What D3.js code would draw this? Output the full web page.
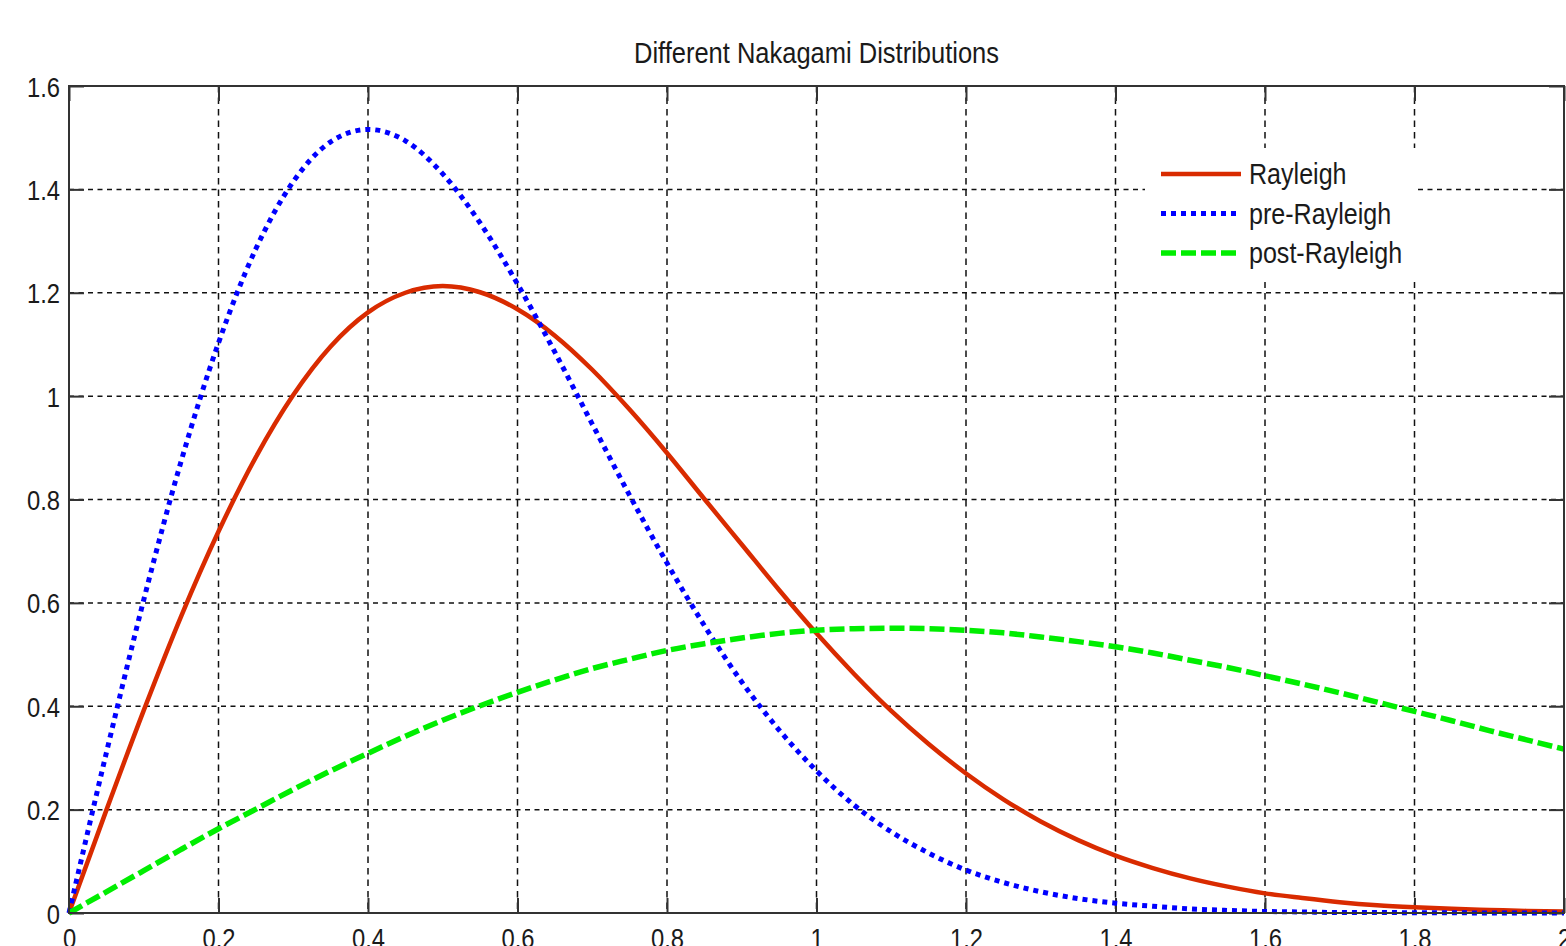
<!DOCTYPE html>
<html>
<head>
<meta charset="utf-8">
<script src="https://cdn.jsdelivr.net/npm/d3@7"></script>
<style>
  html, body { margin: 0; padding: 0; background: #ffffff; overflow: hidden; }
  svg { display: block; font-family: "Liberation Sans", Arial, sans-serif; }
</style>
</head>
<body>
<svg id="chart"></svg>
<script>
// values
const xs = [0, 0.05, 0.1, 0.15, 0.2, 0.25, 0.3, 0.35, 0.4, 0.45, 0.5, 0.55, 0.6, 0.65, 0.7, 0.75, 0.8, 0.85, 0.9, 0.95,
  1.0, 1.05, 1.1, 1.15, 1.2, 1.25, 1.3, 1.35, 1.4, 1.45, 1.5, 1.55, 1.6, 1.65, 1.7, 1.75, 1.8, 1.85, 1.9, 1.95, 2.0];

const rayleigh = [0, 0.199, 0.392, 0.574, 0.738, 0.882, 1.002, 1.096, 1.162, 1.200, 1.213, 1.201, 1.168, 1.117, 1.051, 0.974,
  0.890, 0.801, 0.713, 0.625, 0.541, 0.463, 0.391, 0.327, 0.270, 0.220, 0.177, 0.141, 0.111, 0.087, 0.067, 0.051, 0.038,
  0.029, 0.021, 0.015, 0.011, 0.008, 0.006, 0.004, 0.003];

const preRayleigh = [0, 0.310, 0.606, 0.874, 1.103, 1.285, 1.415, 1.492, 1.516, 1.494, 1.430, 1.335, 1.217, 1.085, 0.946, 0.808,
  0.677, 0.556, 0.447, 0.354, 0.275, 0.209, 0.157, 0.116, 0.083, 0.059, 0.041, 0.028, 0.019, 0.013, 0.008, 0.005, 0.003,
  0.002, 0.001, 0.001, 0.0005, 0.0003, 0.0002, 0.0001, 0];

const postRayleigh = [0, 0.041, 0.082, 0.123, 0.163, 0.201, 0.239, 0.275, 0.309, 0.342, 0.373, 0.401, 0.427, 0.451, 0.473, 0.491,
  0.508, 0.521, 0.532, 0.541, 0.547, 0.550, 0.551, 0.550, 0.547, 0.542, 0.534, 0.525, 0.515, 0.503, 0.489, 0.475, 0.459,
  0.443, 0.426, 0.408, 0.390, 0.372, 0.353, 0.335, 0.317];

const xTicks = [0, 0.2, 0.4, 0.6, 0.8, 1, 1.2, 1.4, 1.6, 1.8, 2];
const yTicks = [0, 0.2, 0.4, 0.6, 0.8, 1, 1.2, 1.4, 1.6];
const seriesNames = ['Rayleigh', 'pre-Rayleigh', 'post-Rayleigh'];

const W = 1566, H = 946;
const margin = { top: 86, right: 2, bottom: 33, left: 69 };
const width = W - margin.left - margin.right;
const height = H - margin.top - margin.bottom;
const squeeze = 0.85; // the picture is squashed sideways

const svg = d3.select('#chart').attr('width', W).attr('height', H);
const g = svg.append('g').attr('transform', `translate(${margin.left},${margin.top})`);

const x = d3.scaleLinear().domain([0, 2]).range([0, width]);
const y = d3.scaleLinear().domain([0, 1.6]).range([height, 0]);

// grid
g.append('g').selectAll('line').data(xTicks.slice(1, -1)).enter().append('line')
  .attr('x1', d => x(d)).attr('x2', d => x(d)).attr('y1', 0).attr('y2', height)
  .attr('stroke', '#111').attr('stroke-width', 1.5).attr('stroke-dasharray', '6.5,5');
g.append('g').selectAll('line').data(yTicks.slice(1, -1)).enter().append('line')
  .attr('x1', 0).attr('x2', width).attr('y1', d => y(d)).attr('y2', d => y(d))
  .attr('stroke', '#111').attr('stroke-width', 1.5).attr('stroke-dasharray', '5,4.5');

// axes with inward ticks
const fmt = d => String(d);
const styleAxis = sel => {
  sel.select('.domain').remove();
  sel.selectAll('.tick line').attr('stroke', '#333').attr('stroke-width', 2);
};
const tickText = (sel, dx, dy, anchor) => {
  sel.selectAll('.tick text')
    .attr('x', null).attr('y', null).attr('dy', null)
    .attr('fill', '#1a1a1a').attr('font-size', 28).attr('font-family', '"Liberation Sans", Arial, sans-serif')
    .attr('text-anchor', anchor)
    .attr('transform', `translate(${dx},${dy}) scale(${squeeze},1)`);
};

const yAxis = g.append('g').call(d3.axisLeft(y).tickValues(yTicks).tickFormat(fmt).tickSizeInner(-15).tickSizeOuter(0).tickPadding(9));
styleAxis(yAxis);
tickText(yAxis, -9, 10, 'end');

const xAxis = g.append('g').attr('transform', `translate(0,${height})`)
  .call(d3.axisBottom(x).tickValues(xTicks).tickFormat(fmt).tickSizeInner(-15).tickSizeOuter(0));
styleAxis(xAxis);
tickText(xAxis, 0, 35, 'middle');

const topAxis = g.append('g').call(d3.axisTop(x).tickValues(xTicks).tickFormat('').tickSizeInner(-15).tickSizeOuter(0));
styleAxis(topAxis);
const rightAxis = g.append('g').attr('transform', `translate(${width},0)`)
  .call(d3.axisRight(y).tickValues(yTicks).tickFormat('').tickSizeInner(-15).tickSizeOuter(0));
styleAxis(rightAxis);

// curves
const line = d3.line().x((d, i) => x(xs[i])).y(d => y(d)).curve(d3.curveMonotoneX);

const series = [
  { name: seriesNames[0], values: rayleigh, color: '#d92b00', width: 4.5, dash: null },
  { name: seriesNames[1], values: preRayleigh, color: '#0000ff', width: 5, dash: '5,5' },
  { name: seriesNames[2], values: postRayleigh, color: '#00ee00', width: 5.5, dash: '15,5' }
];

g.append('g').selectAll('path').data(series).enter().append('path')
  .attr('d', d => line(d.values))
  .attr('fill', 'none')
  .attr('stroke', d => d.color)
  .attr('stroke-width', d => d.width)
  .attr('stroke-dasharray', d => d.dash);

// box
g.append('rect').attr('width', width).attr('height', height)
  .attr('fill', 'none').attr('stroke', '#333').attr('stroke-width', 2);

// legend
const legend = g.append('g').attr('transform', `translate(${1145 - margin.left},${148 - margin.top})`);
legend.append('rect').attr('width', 272).attr('height', 134).attr('fill', '#ffffff');
const rows = legend.selectAll('g.row').data(series).enter().append('g')
  .attr('class', 'row')
  .attr('transform', (d, i) => `translate(0,${26 + i * 39.5})`);
rows.append('line')
  .attr('x1', 16).attr('x2', 96).attr('y1', 0).attr('y2', 0)
  .attr('stroke', d => d.color)
  .attr('stroke-width', d => d.width)
  .attr('stroke-dasharray', d => d.dash);
rows.append('text')
  .attr('transform', `translate(104,10) scale(${squeeze},1)`)
  .attr('font-size', 29.5)
  .attr('fill', '#1a1a1a')
  .text(d => d.name);

// title
svg.append('text')
  .attr('transform', `translate(${margin.left + width / 2},63) scale(${squeeze},1)`)
  .attr('text-anchor', 'middle')
  .attr('font-size', 30)
  .attr('fill', '#1a1a1a')
  .text('Different Nakagami Distributions');
</script>
</body>
</html>
